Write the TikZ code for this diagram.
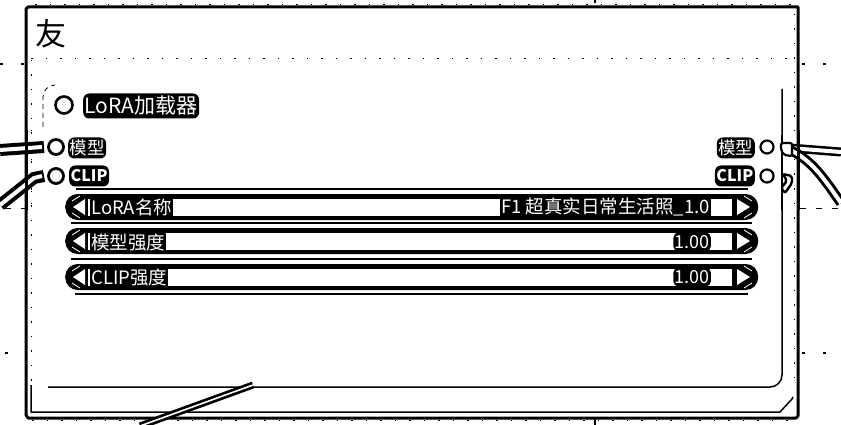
\documentclass[tikz,border=0pt]{standalone}
\usepackage{fontspec}
\setmainfont{Noto Sans CJK SC}
\tikzset{
  x=1pt,y=-1pt,
  frameline/.style={line width=3pt,black},
  thinline/.style={line width=1.5pt,black},
  sepline/.style={line width=1.1pt,black},
  dotline/.style={line width=1pt,black,dash pattern=on 1.5pt off 13pt},
  gridline/.style={line width=1.2pt,black,dash pattern=on 3pt off 18pt},
  dashline/.style={line width=0.8pt,black,dash pattern=on 6pt off 10pt},
  panelleft/.style={line width=0.8pt,black,dash pattern=on 5pt off 4pt},
  haloed/.style={fill=black,text=white,rounded corners=6pt,inner sep=1.5pt,font=\fontsize{17.5pt}{17pt}\selectfont,minimum height=21pt},
  valuelabel/.style={fill=black,text=white,rounded corners=5pt,inner sep=1.2pt,font=\fontsize{18pt}{18pt}\selectfont,minimum height=19pt},
  widgetlabel/.style={fill=black,text=white,inner sep=1pt,font=\fontsize{18.5pt}{18pt}\selectfont,minimum height=19pt},
  socket/.style={circle,draw=black,fill=white,line width=2.8pt,minimum size=15pt,inner sep=0pt},
  socketsmall/.style={circle,draw=black,fill=white,line width=2.2pt,minimum size=13pt,inner sep=0pt},
  wireout/.style={line width=12pt,black},
  wirein/.style={line width=4pt,white},
}
\begin{document}
\begin{tikzpicture}
\useasboundingbox (0,0) rectangle (841,425);
% background guide marks
\draw[gridline] (0,64) -- (26,64);
\draw[gridline] (802,64) -- (841,64);
\draw[dashline] (5,208) -- (26,208);
\draw[dashline] (800,208) -- (841,208);
\draw[gridline] (5,353) -- (26,353);
\draw[gridline] (802,353) -- (841,353);
\draw[line width=1.2pt] (595,0) -- (595,3);
\draw[line width=1.2pt] (595,419) -- (595,425);
% frame
\draw[frameline,line join=round] (26,9) -- (28,7) -- (798,7) -- (798,416) -- (796,418) -- (28,418) -- (26,415) -- cycle;
\draw[dotline] (35,5) -- (795,5);
\draw[dotline] (32,420) -- (795,420);
\draw[dotline] (31,60) -- (31,385);
\draw[dotline] (794,14) -- (794,385);
\draw[dotline] (31,59) -- (793,59);
\draw[thinline,line join=round] (31,385) -- (31,412) -- (780,412) -- (792,399) -- (793,397);
% panel
\draw[panelleft] (43,127) -- (43,97) arc[start angle=180,end angle=270,radius=12];
\draw[thinline] (782,89) -- (782,375) arc[start angle=0,end angle=90,radius=12] -- (48,387);
% title
\node[font=\fontsize{31pt}{31pt}\selectfont] (icon) at (51,34) {友};
\node[circle,draw=black,fill=white,line width=2.6pt,minimum size=17pt,inner sep=0pt] (titlecircle) at (64,105) {};
\node[haloed,anchor=west,font=\fontsize{21pt}{20pt}\selectfont,minimum height=25pt] (title) at (83,106) {LoRA加载器};
% wires
\coordinate (inA) at (0,150);
\coordinate (inB) at (0,205);
\coordinate (outC) at (841,152);
\coordinate (outD) at (841,203);
\coordinate (btmA) at (140,426);
\coordinate (btmB) at (253,385);
\draw[wireout] (inA) -- (44,147);
\draw[wirein] (inA) -- (42,147);
\draw[wireout] (inB) -- (34,178) -- (44,176);
\draw[wirein] (inB) -- (34,178) -- (42,176);
\draw[wireout,line width=9pt] (790,148) -- (outC);
\draw[wirein] (790,148) -- (outC);
\draw[wireout,line width=10pt] (790,150) .. controls (812,160) and (825,180) .. (outD);
\draw[wirein] (790,150) .. controls (812,160) and (825,180) .. (outD);
\draw[wireout,line width=7pt] (btmA) -- (btmB);
\draw[wirein,line width=1.6pt] (btmA) -- (btmB);
\draw[frameline] (798,130) -- (798,210);
\draw[frameline] (26,130) -- (26,210);
\draw[dotline] (31,130) -- (31,210);
\draw[thinline] (782,135) -- (782,210);
% sockets and tabs
\node[socket] (s1) at (56,147) {};
\node[socket] (s2) at (56,176) {};
\node[socketsmall] (s3) at (767,147) {};
\node[socketsmall] (s4) at (767,176) {};
\draw[black,fill=white,line width=2.2pt,rounded corners=2pt] (781,143) -- (792,143) -- (792,156) -- (784,155) -- (781,150) -- cycle;
\draw[black,fill=white,line width=2.4pt,rounded corners=2pt] (783,174) -- (792,176) -- (792,183) -- (785,193) -- (781,188) -- (787,181) -- cycle;
% slot labels
\node[haloed,anchor=west] (l1) at (68,148) {模型};
\node[haloed,anchor=west,font=\bfseries\fontsize{16pt}{17pt}\selectfont] (l2) at (69,176) {CLIP};
\node[haloed,anchor=east] (r1) at (755,148) {模型};
\node[haloed,anchor=east,font=\bfseries\fontsize{16pt}{17pt}\selectfont] (r2) at (755,176) {CLIP};
% separators
\draw[sepline] (76,189) -- (748,189);
\draw[sepline,line width=1.6pt] (71,223) -- (752,223);
\draw[sepline,line width=1.6pt] (71,259) -- (752,259);
\draw[sepline] (75,294) -- (748,294);
% widgets
\foreach \y/\n in {207/wa,241/wb,277/wc}{
  \node[fill=black,rounded corners=12.5pt,minimum width=693pt,minimum height=26pt,inner sep=0pt,anchor=west] (\n) at (65,\y) {};
  \fill[white] (88,\y-8.5) rectangle (732,\y+8.5);
  \fill[white] (85,\y-8) -- (73,\y) -- (85,\y+8) -- cycle;
  \fill[white] (737,\y-8) -- (750,\y) -- (737,\y+8) -- cycle;
  \draw[white,line width=0.8pt] (80,\y-11) -- (72,\y-6);
  \draw[white,line width=0.8pt] (80,\y+11) -- (72,\y+6);
  \draw[white,line width=0.8pt] (744,\y-11) -- (752,\y-6);
  \draw[white,line width=0.8pt] (744,\y+11) -- (752,\y+6);
}
\node[widgetlabel,anchor=west] (n1) at (90,207) {LoRA名称};
\node[widgetlabel,anchor=east] (v1) at (711,207) {F1 超真实日常生活照\_1.0};
\node[widgetlabel,anchor=west] (n2) at (90,242) {模型强度};
\node[valuelabel,anchor=east] (v2) at (711,242) {1.00};
\node[widgetlabel,anchor=west] (n3) at (90,277) {CLIP强度};
\node[valuelabel,anchor=east] (v3) at (711,277) {1.00};
\end{tikzpicture}
\end{document}
